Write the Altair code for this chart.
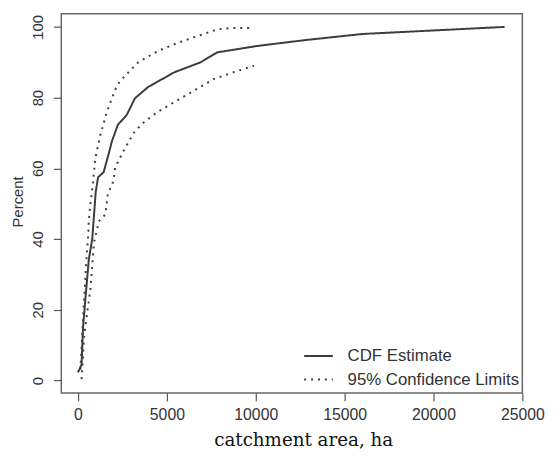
import altair as alt
import pandas as pd

# CDF estimate (catchment area in ha, cumulative percent)
cdf_x = [0, 200, 280, 430, 610, 800, 1000, 1130, 1440, 1720, 1910, 2240, 2740, 3200,
         3940, 5430, 6900, 7830, 10060, 12830, 16000, 20000, 24000]
cdf_y = [2.3, 4.5, 14.8, 24, 34.3, 40, 53.5, 57.5, 58.9, 64, 67.7, 72.3, 75.1, 79.8,
         83, 87.2, 90, 92.8, 94.6, 96.3, 98, 99, 100]

# Upper 95% confidence limit
upper_x = [130, 170, 240, 300, 390, 460, 570, 610, 700, 796, 980, 1260, 1630, 1910,
           2190, 2650, 3390, 4500, 5610, 6720, 7830, 8570, 9900]
upper_y = [3.1, 6.4, 12.9, 19.4, 26.8, 33.3, 40.8, 45.4, 50, 54, 63, 69.5, 76, 79.8,
           83.5, 86.2, 90, 93.2, 95.5, 97.4, 99.3, 99.7, 99.7]

# Lower 95% confidence limit
lower_x = [200, 280, 330, 520, 700, 800, 890, 1070, 1170, 1540, 1680, 2000, 2090, 2650,
           3200, 3760, 4500, 5430, 6540, 7650, 8760, 9900]
lower_y = [0.4, 6.4, 12, 19.4, 25.9, 32.4, 38.9, 42.6, 45, 47, 52.8, 56.5, 60.3, 65.8,
           70.5, 73.3, 76, 78.8, 82, 85.3, 87.2, 89]

kinds = ["CDF Estimate", "95% Confidence Limits"]

rows = []
for cx, cy in zip(cdf_x, cdf_y):
    rows.append({"area": cx, "pct": cy, "curve": "cdf", "kind": kinds[0]})
for cx, cy in zip(upper_x, upper_y):
    rows.append({"area": cx, "pct": cy, "curve": "upper", "kind": kinds[1]})
for cx, cy in zip(lower_x, lower_y):
    rows.append({"area": cx, "pct": cy, "curve": "lower", "kind": kinds[1]})
df = pd.DataFrame(rows)

sans = "Liberation Sans"
txt = "#333333"

chart = alt.Chart(df).mark_line(color="#3c3c3c", strokeWidth=2, clip=True).encode(
    x=alt.X(
        "area:Q",
        scale=alt.Scale(domain=[-940, 25000], nice=False, zero=False),
        axis=alt.Axis(
            values=[0, 5000, 10000, 15000, 20000, 25000], format="d",
            title="catchment area, ha",
            titleFont="DejaVu Serif", titleFontSize=18.5, titleFontWeight="normal",
            titleColor="#111111", titleX=245, titleY=53, titleBaseline="alphabetic",
            titleAnchor="start", titleAlign="center",
            labelFont=sans, labelFontSize=16, labelColor=txt, labelPadding=6,
            labelFlush=False,
            tickSize=8, tickColor="#555555", tickWidth=1.2,
            domain=False, grid=False,
        ),
    ),
    y=alt.Y(
        "pct:Q",
        scale=alt.Scale(domain=[-3.5, 103.7], nice=False, zero=False),
        axis=alt.Axis(
            values=[0, 20, 40, 60, 80, 100], format="d",
            title="Percent",
            titleFont=sans, titleFontSize=15, titleFontWeight="normal", titleColor=txt,
            titleAngle=270, titleX=-44, titleY=190, titleAlign="center",
            titleBaseline="middle", titleAnchor="start",
            labelFont=sans, labelFontSize=15, labelColor=txt, labelAngle=270,
            labelAlign="center", labelBaseline="alphabetic", labelPadding=11,
            labelFlush=False,
            tickSize=8, tickColor="#555555", tickWidth=1.2,
            domain=False, grid=False,
        ),
    ),
    strokeDash=alt.StrokeDash(
        "kind:N",
        scale=alt.Scale(domain=kinds, range=[[1, 0], [2, 5]]),
        legend=alt.Legend(
            title=None, orient="none", legendX=245, legendY=331,
            symbolType="stroke", symbolSize=841, symbolStrokeWidth=2,
            symbolStrokeColor="#3c3c3c", labelFont=sans, labelFontSize=17,
            labelColor=txt, labelOffset=14, rowPadding=-13, labelLimit=300,
        ),
    ),
    detail="curve:N",
).properties(
    width=467,
    height=384,
    autosize=alt.AutoSizeParams(type="none"),
    padding={"left": 54, "top": 3, "right": 26, "bottom": 62},
).configure(
    background="white"
).configure_view(
    stroke="#666666", strokeWidth=1.5
)

chart.save("out.html", embed_options={"renderer": "svg", "actions": False})
